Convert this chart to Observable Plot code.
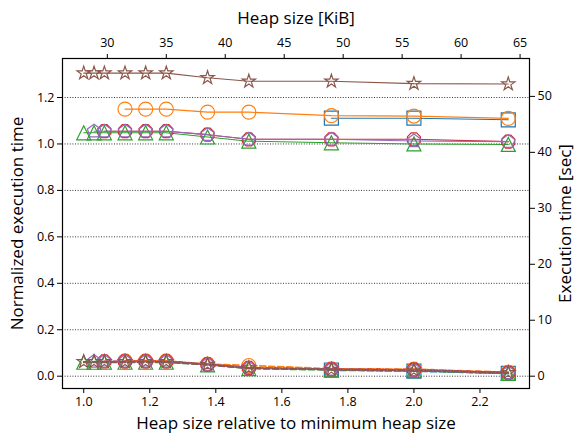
<!DOCTYPE html>
<html><head><meta charset="utf-8">
<script src="https://cdn.jsdelivr.net/npm/d3@7"></script>
<script src="https://cdn.jsdelivr.net/npm/@observablehq/plot@0.6"></script>
<style>body{margin:0;background:#fff;} #chart svg{display:block}</style>
</head><body><div id="chart"></div>
<script>
// ---- data ----
const relHeap = [1.0, 1.03125, 1.0625, 1.125, 1.1875, 1.25, 1.375, 1.5, 1.75, 2.0, 2.2857];
const minHeapKiB = 28;
const kibTicks = [30, 35, 40, 45, 50, 55, 60, 65];
const relTicks = [1.0, 1.2, 1.4, 1.6, 1.8, 2.0, 2.2];
const normTicks = [0, 0.2, 0.4, 0.6, 0.8, 1.0, 1.2];
const secTicks = [0, 10, 20, 30, 40, 50];
const secPerUnit = 41.5;

const normBlue   = [null, null, null, null, null, null, null, null, 1.111, 1.111, 1.104];
const normOrange = [null, null, null, 1.150, 1.150, 1.150, 1.137, 1.137, 1.122, 1.120, 1.110];
const normGreen  = [1.048, 1.048, 1.048, 1.048, 1.048, 1.048, 1.030, 1.012, 1.005, 1.000, 0.998];
const normRed    = [null, null, 1.055, 1.055, 1.055, 1.055, 1.040, 1.020, 1.020, 1.020, 1.010];
const normPurple = [null, 1.055, 1.055, 1.055, 1.055, 1.055, 1.040, 1.020, 1.020, 1.013, 1.010];
const normBrown  = [1.305, 1.305, 1.305, 1.305, 1.305, 1.305, 1.285, 1.270, 1.270, 1.260, 1.258];

const gcBlue   = [null, null, null, null, null, null, null, null, 0.026, 0.022, 0.012];
const gcOrange = [null, null, null, 0.066, 0.066, 0.066, 0.052, 0.046, 0.032, 0.030, 0.017];
const gcGreen  = [0.060, 0.060, 0.060, 0.060, 0.060, 0.060, 0.049, 0.033, 0.027, 0.024, 0.012];
const gcRed    = [null, null, 0.064, 0.064, 0.064, 0.064, 0.051, 0.036, 0.030, 0.028, 0.015];
const gcPurple = [null, 0.063, 0.063, 0.063, 0.063, 0.063, 0.050, 0.035, 0.029, 0.026, 0.014];
const gcBrown  = [0.062, 0.062, 0.062, 0.062, 0.062, 0.062, 0.050, 0.035, 0.029, 0.025, 0.015];

const seriesColors = ["#1f77b4", "#ff7f0e", "#2ca02c", "#d62728", "#9467bd", "#8c564b"];
const seriesSymbolNames = ["square", "circle", "triangle", "octagon", "pentagon", "star"];
const normSeries = [normBlue, normOrange, normGreen, normRed, normPurple, normBrown];
const gcSeries = [gcBlue, gcOrange, gcGreen, gcRed, gcPurple, gcBrown];

// ---- matplotlib-like marker shapes ----
function poly(ctx, pts) { ctx.moveTo(pts[0][0], pts[0][1]); for (let i = 1; i < pts.length; ++i) ctx.lineTo(pts[i][0], pts[i][1]); ctx.closePath(); }
function regular(n, R, rot) { const p = []; for (let i = 0; i < n; ++i) { const a = -Math.PI / 2 + rot + i * 2 * Math.PI / n; p.push([R * Math.cos(a), R * Math.sin(a)]); } return p; }
const symbols = {
  square: {draw(ctx, size) { const R = Math.sqrt(size / Math.PI); poly(ctx, [[-R, -R], [R, -R], [R, R], [-R, R]]); }},
  circle: {draw(ctx, size) { const R = Math.sqrt(size / Math.PI); ctx.moveTo(R, 0); ctx.arc(0, 0, R, 0, 2 * Math.PI); ctx.closePath(); }},
  triangle: {draw(ctx, size) { const R = Math.sqrt(size / Math.PI); poly(ctx, [[0, -R], [-R, R], [R, R]]); }},
  octagon: {draw(ctx, size) { const R = Math.sqrt(size / Math.PI); poly(ctx, regular(8, R, Math.PI / 8)); }},
  pentagon: {draw(ctx, size) { const R = Math.sqrt(size / Math.PI); poly(ctx, regular(5, R, 0)); }},
  star: {draw(ctx, size) { const R = Math.sqrt(size / Math.PI); const r = R * 0.381966; const p = [];
    for (let i = 0; i < 10; ++i) { const a = -Math.PI / 2 + i * Math.PI / 5; const rr = i % 2 ? r : R; p.push([rr * Math.cos(a), rr * Math.sin(a)]); }
    poly(ctx, p); }}
};

function rows(arr) { return relHeap.map((x, i) => ({x, y: arr[i]})).filter(d => d.y != null); }

const marks = [
  Plot.gridY(normTicks, {stroke: "black", strokeOpacity: 1, strokeWidth: 0.8, strokeDasharray: "1,1.6"})
];
normSeries.forEach((arr, k) => {
  const data = rows(arr);
  marks.push(Plot.line(data, {x: "x", y: "y", stroke: seriesColors[k], strokeWidth: 1.1}));
  marks.push(Plot.dot(data, {x: "x", y: "y", stroke: seriesColors[k], fill: "none", strokeWidth: 1.2, r: 7, symbol: symbols[seriesSymbolNames[k]]}));
});
gcSeries.forEach((arr, k) => {
  const data = rows(arr);
  marks.push(Plot.line(data, {x: "x", y: "y", stroke: seriesColors[k], strokeWidth: 1.8, strokeDasharray: "6,3"}));
  marks.push(Plot.dot(data, {x: "x", y: "y", stroke: seriesColors[k], fill: "none", strokeWidth: 1.2, r: 7, symbol: symbols[seriesSymbolNames[k]]}));
});
const labelFont = "'Open Sans', sans-serif";
marks.push(
  Plot.frame({stroke: "black", strokeWidth: 1.2}),
  Plot.axisX(relTicks, {anchor: "bottom", tickSize: 5, tickPadding: 4, tickFormat: d3.format(".1f"), label: null}),
  Plot.axisX(kibTicks.map(k => k / minHeapKiB), {anchor: "top", tickSize: 5, tickPadding: 7, tickFormat: d => String(Math.round(d * minHeapKiB)), label: null}),
  Plot.axisY(normTicks, {anchor: "left", tickSize: 5, tickPadding: 3, tickFormat: d3.format(".1f"), label: null}),
  Plot.axisY(secTicks.map(s => s / secPerUnit), {anchor: "right", tickSize: 5, tickPadding: 3, tickFormat: d => String(Math.round(d * secPerUnit)), label: null}),
  Plot.text(["Heap size [KiB]"], {text: d => d, frameAnchor: "top", lineAnchor: "middle", textAnchor: "middle", dy: -40, fontSize: 17, fontFamily: labelFont}),
  Plot.text(["Heap size relative to minimum heap size"], {text: d => d, frameAnchor: "bottom", lineAnchor: "middle", textAnchor: "middle", dy: 35, fontSize: 17, fontFamily: labelFont}),
  Plot.text(["Normalized execution time"], {text: d => d, frameAnchor: "left", lineAnchor: "middle", textAnchor: "middle", dx: -45, rotate: -90, fontSize: 17, fontFamily: labelFont}),
  Plot.text(["Execution time [sec]"], {text: d => d, frameAnchor: "right", lineAnchor: "middle", textAnchor: "middle", dx: 36, rotate: -90, fontSize: 17, fontFamily: labelFont})
);

const chart = Plot.plot({
  width: 576, height: 433,
  marginLeft: 62, marginRight: 47, marginTop: 58, marginBottom: 45,
  style: {fontFamily: "'Open Sans', sans-serif", fontSize: "12.5px", color: "black", background: "white"},
  x: {domain: [0.9357, 2.35], label: null},
  y: {domain: [-0.053, 1.368], label: null},
  marks
});
document.getElementById("chart").appendChild(chart);
</script></body></html>
